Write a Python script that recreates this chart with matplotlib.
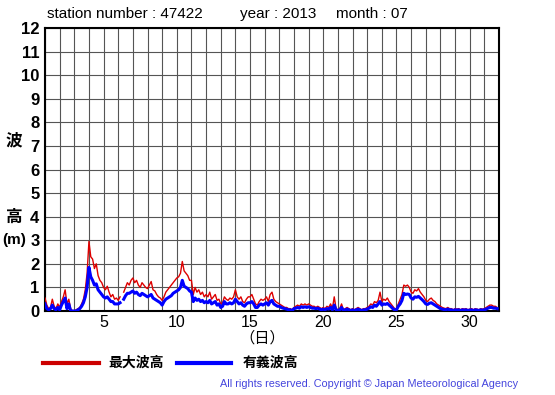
import numpy as np
import matplotlib
matplotlib.use('Agg')
import matplotlib.pyplot as plt
from matplotlib.lines import Line2D

plt.rcParams['font.family'] = ['Liberation Sans', 'Noto Sans CJK JP', 'DejaVu Sans']

nan = np.nan

# 3-hourly values, 8 per day, July 1 .. July 31
max_wave = [
    0.55, 0.25, 0.1, 0.15, 0.5, 0.2, 0.1, 0.3,      # 1
    0.15, 0.4, 0.6, 0.9, 0.3, 0.5, 0.1, 0.0,        # 2
    0.0, 0.05, 0.1, 0.15, 0.3, 0.5, 0.9, 1.6,       # 3
    2.95, 2.3, 2.2, 1.8, 2.0, 1.5, 1.3, 1.2,        # 4
    1.0, 0.9, 1.05, 0.8, 0.6, 0.7, 0.5, 0.55,       # 5
    0.45, 0.6, nan, 0.8, 1.0, 1.2, 1.1, 1.3,        # 6
    1.4, 1.2, 1.3, 1.1, 1.0, 1.2, 1.1, 1.0,         # 7
    0.95, 1.1, 1.25, 0.9, 0.85, 0.7, 0.6, 0.55,     # 8
    0.45, 0.6, 0.8, 0.9, 1.0, 1.1, 1.2, 1.3,        # 9
    1.4, 1.45, 1.6, 2.1, 1.7, 1.6, 1.5, 1.3,        # 10
    1.3, 0.7, 1.0, 0.8, 0.9, 0.7, 0.8, 0.6,         # 11
    0.7, 0.6, 0.8, 0.5, 0.6, 0.7, 0.45, 0.5,        # 12
    0.3, 0.35, 0.6, 0.5, 0.45, 0.55, 0.5, 0.6,      # 13
    0.9, 0.6, 0.5, 0.6, 0.4, 0.35, 0.5, 0.6,        # 14
    0.6, 0.7, 0.5, 0.3, 0.25, 0.4, 0.5, 0.45,       # 15
    0.5, 0.6, 0.4, 0.7, 0.8, 0.5, 0.4, 0.35,        # 16
    0.3, 0.25, 0.2, 0.15, 0.15, 0.1, 0.1, 0.05,     # 17
    0.15, 0.2, 0.25, 0.2, 0.3, 0.25, 0.3, 0.25,     # 18
    0.3, 0.25, 0.2, 0.2, 0.15, 0.2, 0.15, 0.1,      # 19
    0.15, 0.1, 0.2, 0.15, 0.3, 0.1, 0.6, 0.1,       # 20
    0.05, 0.1, 0.3, 0.05, 0.1, 0.15, 0.1, 0.05,     # 21
    0.1, 0.05, 0.1, 0.15, 0.1, 0.05, 0.1, 0.1,      # 22
    0.15, 0.2, 0.3, 0.25, 0.4, 0.35, 0.45, 0.8,     # 23
    0.4, 0.5, 0.45, 0.55, 0.4, 0.3, 0.2, 0.1,       # 24
    0.1, 0.3, 0.5, 0.7, 1.1, 1.05, 1.1, 1.0,        # 25
    0.8, 0.75, 0.9, 0.85, 0.95, 0.8, 0.7, 0.6,      # 26
    0.45, 0.4, 0.5, 0.55, 0.45, 0.4, 0.3, 0.25,     # 27
    0.2, 0.15, 0.12, 0.1, 0.15, 0.1, 0.1, 0.05,     # 28
    0.1, 0.08, 0.1, 0.05, 0.1, 0.08, 0.1, 0.05,     # 29
    0.08, 0.1, 0.05, 0.1, 0.08, 0.05, 0.1, 0.08,    # 30
    0.1, 0.15, 0.2, 0.25, 0.25, 0.2, 0.2, 0.15,     # 31
]

sig_wave = [
    0.3, 0.1, 0.05, 0.1, 0.25, 0.1, 0.05, 0.15,     # 1
    0.05, 0.25, 0.4, 0.55, 0.1, 0.3, 0.0, 0.0,      # 2
    0.0, 0.0, 0.05, 0.1, 0.2, 0.35, 0.6, 1.0,       # 3
    1.85, 1.45, 1.3, 1.1, 1.15, 0.9, 0.8, 0.7,      # 4
    0.6, 0.55, 0.6, 0.5, 0.4, 0.4, 0.3, 0.3,        # 5
    0.3, 0.35, nan, 0.5, 0.65, 0.75, 0.75, 0.8,     # 6
    0.85, 0.75, 0.8, 0.7, 0.65, 0.75, 0.7, 0.65,    # 7
    0.6, 0.65, 0.7, 0.55, 0.5, 0.45, 0.4, 0.35,     # 8
    0.25, 0.4, 0.5, 0.55, 0.6, 0.65, 0.75, 0.8,     # 9
    0.85, 0.9, 1.0, 1.3, 1.05, 1.0, 0.95, 0.85,     # 10
    0.8, 0.4, 0.55, 0.45, 0.5, 0.4, 0.45, 0.35,     # 11
    0.4, 0.35, 0.45, 0.3, 0.35, 0.4, 0.25, 0.3,     # 12
    0.15, 0.2, 0.4, 0.3, 0.3, 0.35, 0.3, 0.35,      # 13
    0.5, 0.4, 0.3, 0.35, 0.25, 0.2, 0.3, 0.35,      # 14
    0.35, 0.4, 0.3, 0.15, 0.15, 0.25, 0.3, 0.25,    # 15
    0.3, 0.35, 0.25, 0.4, 0.45, 0.3, 0.25, 0.2,     # 16
    0.2, 0.15, 0.12, 0.1, 0.08, 0.05, 0.05, 0.02,   # 17
    0.1, 0.12, 0.15, 0.12, 0.18, 0.15, 0.18, 0.15,  # 18
    0.18, 0.15, 0.12, 0.12, 0.1, 0.12, 0.08, 0.05,  # 19
    0.08, 0.05, 0.1, 0.08, 0.15, 0.05, 0.25, 0.05,  # 20
    0.02, 0.05, 0.15, 0.02, 0.05, 0.08, 0.05, 0.02, # 21
    0.05, 0.02, 0.05, 0.08, 0.05, 0.02, 0.05, 0.05, # 22
    0.08, 0.12, 0.18, 0.15, 0.25, 0.2, 0.3, 0.4,    # 23
    0.25, 0.3, 0.28, 0.32, 0.25, 0.18, 0.1, 0.05,   # 24
    0.05, 0.2, 0.3, 0.45, 0.75, 0.7, 0.72, 0.7,     # 25
    0.55, 0.5, 0.6, 0.58, 0.62, 0.55, 0.48, 0.4,    # 26
    0.3, 0.28, 0.33, 0.35, 0.3, 0.25, 0.2, 0.15,    # 27
    0.1, 0.08, 0.06, 0.05, 0.08, 0.05, 0.05, 0.02,  # 28
    0.05, 0.04, 0.05, 0.02, 0.05, 0.04, 0.05, 0.02, # 29
    0.04, 0.05, 0.02, 0.05, 0.04, 0.02, 0.05, 0.04, # 30
    0.05, 0.08, 0.12, 0.15, 0.15, 0.12, 0.12, 0.1,  # 31
]

days = 1 + np.arange(len(max_wave)) / 8.0
x_tick_labels = ['5', '10', '15', '20', '25', '30']
y_tick_labels = [str(i) for i in range(13)]

fig = plt.figure(figsize=(5.55, 3.95), dpi=100)
ax = fig.add_axes([45 / 555, 1 - 311 / 395, 454 / 555, 283 / 395])

ax.plot(days, max_wave, color='#dd0000', linewidth=1.0, zorder=3)
ax.plot(days, sig_wave, color='#0000ff', linewidth=2.2, zorder=4)

ax.set_xlim(1, 32)
ax.set_ylim(0, 12)
ax.set_xticks(range(1, 33), minor=True)
ax.set_xticks([5, 10, 15, 20, 25, 30])
ax.set_xticklabels(x_tick_labels, fontsize=11.5)
ax.set_yticks(range(13))
ax.set_yticklabels(y_tick_labels, fontsize=12, fontweight='bold')
ax.tick_params(which='both', length=0)
ax.tick_params(axis='x', pad=3)
ax.tick_params(axis='y', pad=4)
ax.grid(True, which='both', color='#555555', linewidth=0.8)
for s in ax.spines.values():
    s.set_linewidth(1.5)

fig.text(47 / 555, 1 - 14 / 395, 'station number : 47422', fontsize=11, va='center')
fig.text(240 / 555, 1 - 14 / 395, 'year : 2013', fontsize=11, va='center')
fig.text(336 / 555, 1 - 14 / 395, 'month : 07', fontsize=11, va='center')

jp = ['Noto Sans CJK JP', 'DejaVu Sans']
fig.text(14 / 555, 1 - 140 / 395, '波', fontsize=12, fontweight='bold', family=jp, ha='center', va='center')
fig.text(14 / 555, 1 - 217 / 395, '高', fontsize=12, fontweight='bold', family=jp, ha='center', va='center')
fig.text(14 / 555, 1 - 240 / 395, '(m)', fontsize=11, fontweight='bold', ha='center', va='center')
fig.text(262 / 555, 1 - 338 / 395, '（日）', fontsize=11, family=jp, ha='center', va='center')

fig.add_artist(Line2D([43 / 555, 99 / 555], [1 - 363 / 395] * 2, color='#cc0000', linewidth=3))
fig.text(108 / 555, 1 - 363 / 395, '最大波高', fontsize=10, fontweight='bold', family=jp, va='center')
fig.add_artist(Line2D([177 / 555, 231 / 555], [1 - 363 / 395] * 2, color='#0000ff', linewidth=3))
fig.text(243 / 555, 1 - 363 / 395, '有義波高', fontsize=10, fontweight='bold', family=jp, va='center')

fig.text(518 / 555, 1 - 384 / 395, 'All rights reserved. Copyright © Japan Meteorological Agency',
         fontsize=7.8, color='#4444dd', ha='right', va='center')

fig.savefig('out.png', dpi=100)
